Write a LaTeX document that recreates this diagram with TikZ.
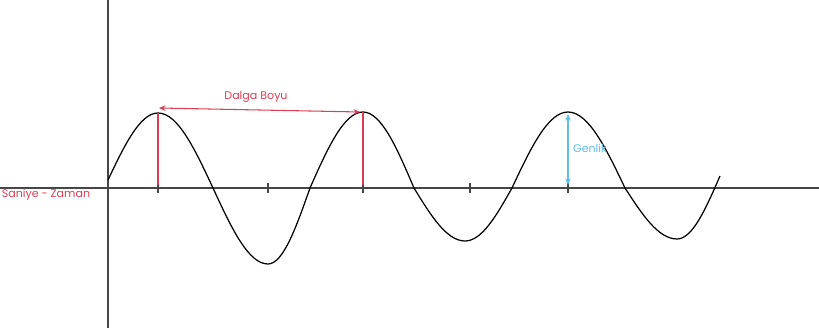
\documentclass[tikz,border=0pt]{standalone}
\usepackage{fontspec}
\usepackage{xcolor}
\usepackage{tikz}
\usetikzlibrary{arrows.meta,positioning}
\newfontfamily\lblfont{Poppins}
\definecolor{wred}{RGB}{218,62,82}
\definecolor{wblue}{RGB}{95,190,232}
\definecolor{axgray}{RGB}{70,70,70}

\begin{document}
\begin{tikzpicture}[x=0.02cm,y=-0.02cm,
  ax/.style={draw=axgray,line width=0.9pt},
  wave/.style={draw=black,line width=0.7pt},
  lbl/.style={font=\lblfont\fontsize{6.3}{7}\selectfont,inner sep=1pt},
  ar/.style={{Stealth[length=1.3mm,width=1.1mm]}-{Stealth[length=1.3mm,width=1.1mm]},line width=0.6pt}]
\useasboundingbox (0,0) rectangle (819,331);
% axes
\coordinate (xl) at (0,188);
\coordinate (xr) at (819,188);
\coordinate (yt) at (108,0);
\coordinate (yb) at (108,328);
\draw[ax] (xl) -- (xr);
\draw[ax] (yt) -- (yb);
\foreach \t in {158,268,363,470,568} \draw[ax,line width=0.7pt] (\t,183) -- (\t,193);
% the wave
\draw[wave] (108,180) sin (158,113) cos (213,188) sin (268,264) cos (310,188)
  sin (363,112) cos (414,188) sin (465,241) cos (512,188)
  sin (568,112) cos (625,188) sin (677,239) cos (720,176);
% wavelength
\coordinate (p1) at (158,113);
\coordinate (p2) at (363,112);
\coordinate (f1) at (158,185);
\coordinate (f2) at (363,185);
\draw[wred,line width=0.6pt] (p1) -- (f1);
\draw[wred,line width=0.6pt] (p2) -- (f2);
\coordinate (w1) at (159,108);
\coordinate (w2) at (360,112);
\draw[ar,wred] (w1) -- (w2);
\node[lbl,text=wred] (dalga) at (256,97) {Dalga Boyu};
% amplitude
\coordinate (g1) at (568,114);
\coordinate (g2) at (568,185);
\draw[ar,wblue] (g1) -- (g2);
\node[lbl,text=wblue] (genlik) at (590,148) {Genlik};
\node[lbl,text=wred] (zaman) at (46,195) {Saniye - Zaman};
\end{tikzpicture}
\end{document}
